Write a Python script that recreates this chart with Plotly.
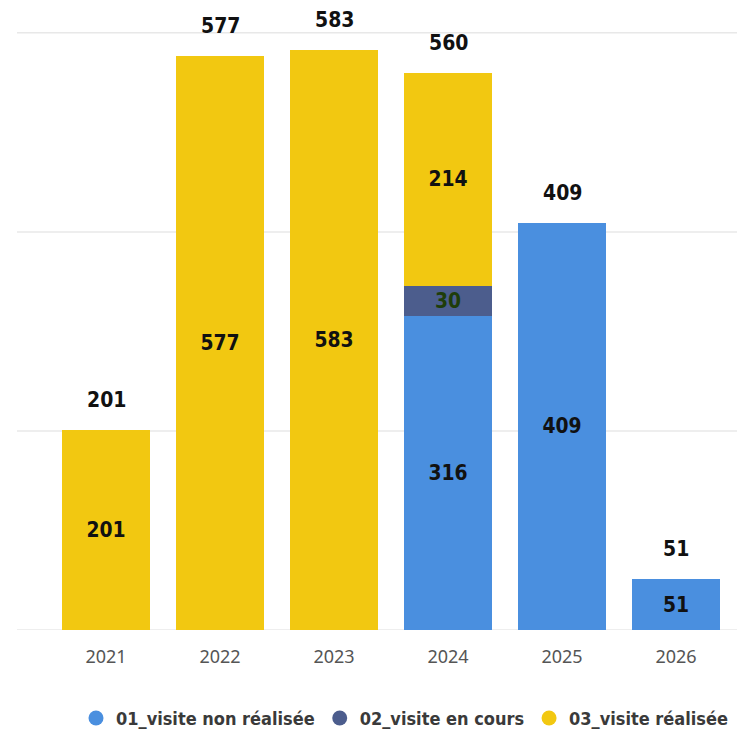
import plotly.graph_objects as go

years = ["2021", "2022", "2023", "2024", "2025", "2026"]
non_realisee = [0, 0, 0, 316, 409, 51]
en_cours = [0, 0, 0, 30, 0, 0]
realisee = [201, 577, 583, 214, 0, 0]
totals = [201, 577, 583, 560, 409, 51]

series = [
    ("01_visite non réalisée", non_realisee, "#4A8FDF", "#111111"),
    ("02_visite en cours", en_cours, "#4C5D8D", "#1E3D0A"),
    ("03_visite réalisée", realisee, "#F2C811", "#111111"),
]

LBL = dict(family="DejaVu Sans Condensed", size=21, color="#111111", weight="bold")

fig = go.Figure()
for name, vals, color, tcol in series:
    fig.add_trace(go.Bar(
        x=years, y=vals, name=name, marker_color=color, marker_line_width=0,
        text=[str(v) if v else "" for v in vals], textposition="inside",
        insidetextanchor="middle", textangle=0,
        textfont=dict(LBL, color=tcol),
        showlegend=False, hoverinfo="skip"))
    fig.add_trace(go.Scatter(
        x=[None], y=[None], mode="markers", name=name,
        marker=dict(symbol="circle", size=15, color=color)))

for i, t in enumerate(totals):
    fig.add_annotation(x=i, y=t, text=str(t), showarrow=False, yanchor="middle",
                       yshift=30, font=LBL)

for g in [0, 200, 400, 600]:
    fig.add_shape(type="line", xref="paper", yref="y", x0=-32/684, x1=1.01, y0=g, y1=g,
                  line=dict(color="#E8E8E8", width=1.5), layer="below")

fig.update_layout(
    width=737, height=730, barmode="stack", bargap=0.22,
    margin=dict(l=49, r=4, t=0, b=100, autoexpand=False),
    plot_bgcolor="white", paper_bgcolor="white",
    xaxis=dict(type="category", range=[-0.5, 5.5],
               showgrid=False, showline=False, ticks="outside", ticklen=10, tickcolor="rgba(0,0,0,0)",
               tickfont=dict(family="Noto Sans", size=18, color="#555555")),
    yaxis=dict(range=[0, 633], showgrid=False, showticklabels=False, zeroline=False),
    legend=dict(orientation="h", x=1.0, xanchor="right", yref="container", y=0.016, yanchor="middle",
                traceorder="normal",
                font=dict(family="DejaVu Sans Condensed", size=18, color="#3A3A3A", weight="bold"),
                itemwidth=30, tracegroupgap=0),
    uniformtext=dict(minsize=10, mode="show"),
)

fig.write_html("out.html")
